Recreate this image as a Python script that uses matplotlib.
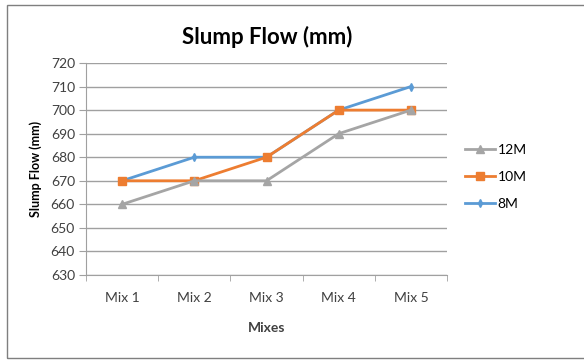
import numpy as np
import matplotlib.pyplot as plt
from matplotlib.patches import Rectangle

# slump flow per mix, one list per molarity
mixes = ["Mix 1", "Mix 2", "Mix 3", "Mix 4", "Mix 5"]
flow_12m = [660, 670, 670, 690, 700]
flow_10m = [670, 670, 680, 700, 700]
flow_8m = [670, 680, 680, 700, 710]
y_ticks = list(range(630, 721, 10))

Fontsize = 10
plt.rcParams['font.family'] = ['Lato', 'DejaVu Sans']

fig = plt.figure(figsize=(5.84, 3.62), dpi=100)
fig.patches.append(Rectangle((7 / 584, 4 / 362), 1.0, 353 / 362, transform=fig.transFigure,
                             fill=False, edgecolor='#7f7f7f', linewidth=1.0))
ax = fig.add_axes([86 / 584, 87 / 362, 361 / 584, 212 / 362])

x = np.arange(len(mixes))
# blue first so orange and grey sit on top of it
l8, = ax.plot(x, flow_8m, color='#5B9BD5', marker='d', markersize=4, linewidth=2.0, label='8M', zorder=3)
l10, = ax.plot(x, flow_10m, color='#ED7D31', marker='s', markersize=6, linewidth=2.0, label='10M', zorder=4)
l12, = ax.plot(x, flow_12m, color='#A5A5A5', marker='^', markersize=6, linewidth=2.0, label='12M', zorder=5)

ax.set_xlim(-0.5, len(mixes) - 0.5)
ax.set_ylim(630, 720)
ax.set_yticks(y_ticks)
ax.set_yticklabels([str(v) for v in y_ticks], fontsize=Fontsize, color='#404040')
ax.set_xticks(x)
ax.set_xticklabels(mixes, fontsize=Fontsize, color='#404040')
ax.set_xticks(np.arange(-0.5, len(mixes)), minor=True)
ax.tick_params(axis='x', which='major', length=0, pad=12)
ax.tick_params(axis='x', which='minor', length=4, color='#a0a0a0', direction='out')
ax.tick_params(axis='y', length=5, color='#a0a0a0', pad=3)

ax.grid(True, axis='y', color='#a0a0a0', linewidth=1.0, zorder=0)
for side in ['top', 'right']:
    ax.spines[side].set_visible(False)
for side in ['left', 'bottom']:
    ax.spines[side].set_color('#a0a0a0')

fig.text(267 / 584, 1 - 37 / 362, 'Slump Flow (mm)', ha='center', va='center', fontsize=16,
         fontweight='bold', color='black')
ax.set_xlabel('Mixes', fontsize=Fontsize, fontweight='bold', color='#404040', labelpad=13)
ax.set_ylabel('Slump Flow (mm)', fontsize=9, fontweight='bold', color='black', labelpad=6)

fig.legend(handles=[l12, l10, l8], loc='center left', bbox_to_anchor=(452 / 584, 1 - 177 / 362),
           frameon=False, fontsize=Fontsize, labelspacing=1.1, handlelength=2.2, handletextpad=0.2)

plt.savefig('out.png', dpi=100)
